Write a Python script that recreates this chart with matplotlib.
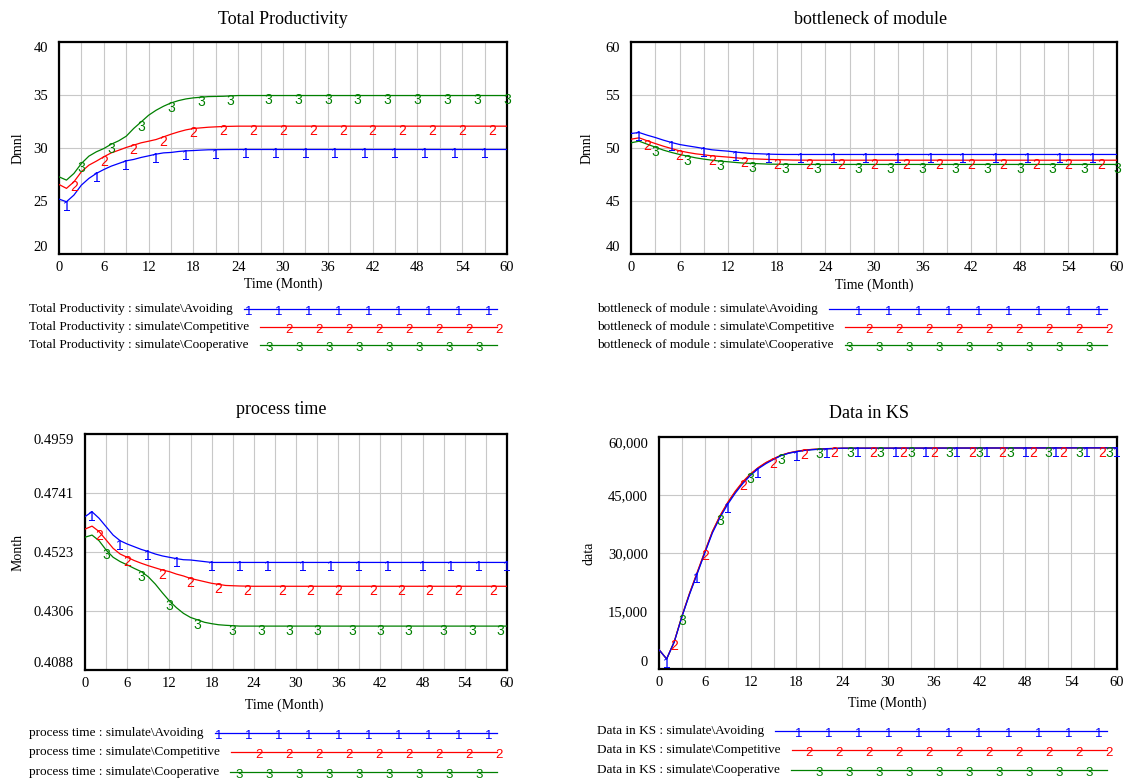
import numpy as np
import matplotlib
matplotlib.use("Agg")
import matplotlib.pyplot as plt
from matplotlib.lines import Line2D

W, H = 1129, 780

time = [0, 1, 2, 3, 4, 5, 6, 7, 8, 9, 10, 11, 12, 13, 14, 15, 16, 17, 18, 19, 20, 22, 24, 60]

prod_avoiding = [25.18, 24.93, 25.56, 26.50, 27.13, 27.60, 27.97, 28.29, 28.54, 28.79, 28.92, 29.11,
                 29.26, 29.42, 29.54, 29.58, 29.67, 29.73, 29.76, 29.80, 29.83, 29.85, 29.86, 29.86]
prod_competitive = [26.56, 26.19, 26.81, 27.76, 28.38, 28.76, 29.17, 29.54, 29.79, 30.05, 30.27, 30.49,
                    30.64, 30.80, 31.05, 31.30, 31.52, 31.71, 31.84, 31.90, 31.96, 32.03, 32.06, 32.06]
prod_cooperative = [27.28, 26.97, 27.60, 28.54, 29.23, 29.64, 29.95, 30.36, 30.68, 31.11, 31.84, 32.46,
                    33.09, 33.56, 33.94, 34.25, 34.47, 34.63, 34.73, 34.79, 34.85, 34.88, 34.95, 34.95]

bott_avoiding = [51.37, 51.46, 51.21, 50.99, 50.74, 50.52, 50.33, 50.20, 50.08, 49.95, 49.83, 49.76,
                 49.70, 49.61, 49.54, 49.48, 49.45, 49.42, 49.40, 49.39, 49.39, 49.39, 49.39, 49.39]
bott_competitive = [50.83, 50.96, 50.68, 50.42, 50.17, 49.95, 49.73, 49.58, 49.45, 49.36, 49.26, 49.20,
                    49.14, 49.07, 49.01, 48.98, 48.95, 48.92, 48.90, 48.88, 48.86, 48.85, 48.85, 48.85]
bott_cooperative = [50.49, 50.64, 50.36, 50.08, 49.80, 49.58, 49.39, 49.23, 49.07, 48.95, 48.85, 48.76,
                    48.70, 48.63, 48.57, 48.54, 48.51, 48.48, 48.47, 48.46, 48.45, 48.45, 48.45, 48.45]

ptime_avoiding = [0.4654, 0.4672, 0.4648, 0.4617, 0.4586, 0.4565, 0.4553, 0.4543, 0.4533, 0.4525, 0.4516, 0.4509,
                  0.4504, 0.4499, 0.4495, 0.4494, 0.4491, 0.4488, 0.4485, 0.4485, 0.4485, 0.4485, 0.4485, 0.4485]
ptime_competitive = [0.4608, 0.4619, 0.4599, 0.4568, 0.4537, 0.4516, 0.4504, 0.4492, 0.4482, 0.4473, 0.4465, 0.4457,
                     0.4451, 0.4442, 0.4435, 0.4426, 0.4420, 0.4414, 0.4408, 0.4404, 0.4400, 0.4398, 0.4397, 0.4397]
ptime_cooperative = [0.4578, 0.4586, 0.4565, 0.4531, 0.4504, 0.4488, 0.4476, 0.4463, 0.4451, 0.4432, 0.4405, 0.4373,
                     0.4343, 0.4318, 0.4297, 0.4282, 0.4273, 0.4264, 0.4259, 0.4255, 0.4253, 0.4250, 0.4250, 0.4250]

ks_avoiding = [5000, 2600, 7000, 13500, 19300, 24600, 30000, 35200, 39200, 42600, 45500, 48000,
               50100, 51800, 53100, 54200, 55200, 55800, 56200, 56500, 56700, 56950, 57100, 57200]
ks_competitive = [5000, 2600, 7100, 13700, 19600, 25000, 30400, 35600, 39700, 43100, 46000, 48500,
                  50500, 52100, 53400, 54400, 55300, 55900, 56300, 56600, 56800, 57000, 57100, 57200]
ks_cooperative = [5000, 2600, 7050, 13600, 19500, 24800, 30200, 35500, 39500, 42900, 45800, 48300,
                  50300, 52000, 53300, 54300, 55250, 55850, 56250, 56550, 56750, 56980, 57100, 57200]

scenarios = ["Avoiding", "Competitive", "Cooperative"]
colors = ["#0000ff", "#ff0000", "#008000"]
digits = ["1", "2", "3"]

# where the little run numbers sit along the curves (months)
marks_top = [list(range(1, 58, 4)), list(range(2, 59, 4)), [3, 7, 11, 15, 19, 23] + list(range(28, 61, 4))]
marks_bottom = [[1, 5, 9, 13, 18, 22, 26, 31, 35, 39, 43, 48, 52, 56, 60],
                [2, 6, 11, 15, 19, 23, 28, 32, 36, 41, 45, 49, 53, 58],
                [3, 8, 12, 16, 21, 25, 29, 33, 38, 42, 46, 51, 55, 59]]

SERIF = "Liberation Serif"
SANS = "Liberation Sans"

fig = plt.figure(figsize=(W / 100, H / 100), dpi=100)
fig.patch.set_facecolor("white")


def fx(x):
    return x / W


def fy(y):
    return 1 - y / H


def panel(box, title, title_xy, ylabel, ylabel_xy, xlabel_xy, ylim, ylabels,
          series, marks, legend_name, legend_x, legend_end, legend_rows):
    left, top, right, bottom = box
    ax = fig.add_axes([fx(left), fy(bottom), (right - left) / W, (bottom - top) / H])
    for i in [2, 1, 0]:
        ax.plot(time, series[i], color=colors[i], lw=0.9, zorder=3)
        ys = np.interp(marks[i], time, series[i])
        for t, v in zip(marks[i], ys):
            ax.annotate(digits[i], (t, v), xytext=(0, -3.5), textcoords="offset points",
                        ha="center", va="center", color=colors[i], fontsize=10,
                        family=SANS, zorder=4, annotation_clip=False)
    ax.set_xlim(0, 60)
    ax.set_ylim(*ylim)
    ax.set_xticks(range(0, 61, 6))
    ax.set_xticks(range(0, 61, 3), minor=True)
    yt = np.linspace(ylim[0], ylim[1], 5)
    ax.set_yticks(yt, ylabels)
    ax.grid(True, which="both", color="#c8c8c8", lw=0.8, zorder=0)
    ax.tick_params(which="both", length=0, labelsize=10.5)
    ax.tick_params(axis="x", pad=5)
    ax.tick_params(axis="y", pad=8)
    for lab in ax.get_xticklabels() + ax.get_yticklabels():
        lab.set_family(SERIF)
    ylabs = ax.get_yticklabels()
    ylabs[0].set_va("bottom")
    ylabs[-1].set_va("top")
    for s in ax.spines.values():
        s.set_linewidth(1.6)
        s.set_color("black")

    fig.text(fx(title_xy[0]), fy(title_xy[1]), title, ha="center", va="center",
             family=SERIF, fontsize=13)
    fig.text(fx(ylabel_xy[0]), fy(ylabel_xy[1]), ylabel, ha="center", va="center",
             rotation=90, family=SERIF, fontsize=10)
    fig.text(fx(xlabel_xy[0]), fy(xlabel_xy[1]), "Time (Month)", ha="center", va="center",
             family=SERIF, fontsize=10)

    renderer = fig.canvas.get_renderer()
    ends = [-8, 2, -18]
    for i in range(3):
        row = legend_rows[i]
        txt = fig.text(fx(legend_x), fy(row), legend_name + " : simulate\\" + scenarios[i],
                       ha="left", va="center", family=SERIF, fontsize=9.5)
        bb = txt.get_window_extent(renderer)
        x0 = bb.x1 + 11
        fig.add_artist(Line2D([fx(x0), fx(legend_end)], [fy(row), fy(row)],
                              transform=fig.transFigure, color=colors[i], lw=0.9))
        xm = legend_end + ends[i]
        while xm > x0 + 3:
            fig.text(fx(xm), fy(row + 3), digits[i], ha="center", va="center",
                     color=colors[i], fontsize=9.5, family=SANS)
            xm -= 30
    return ax


panel((59, 42, 507, 254), "Total Productivity", (283, 20), "Dmnl", (18, 148), (283, 284),
      (20, 40), ["20", "25", "30", "35", "40"],
      [prod_avoiding, prod_competitive, prod_cooperative], marks_top,
      "Total Productivity", 29, 497, [309, 327, 345])

panel((631, 42, 1117, 254), "bottleneck of module", (871, 20), "Dmnl", (587, 148), (874, 285),
      (40, 60), ["40", "45", "50", "55", "60"],
      [bott_avoiding, bott_competitive, bott_cooperative], marks_top,
      "bottleneck of module", 597, 1107, [309, 327, 345])

panel((85, 434, 507, 670), "process time", (281, 410), "Month", (18, 552), (284, 705),
      (0.4088, 0.4959), ["0.4088", "0.4306", "0.4523", "0.4741", "0.4959"],
      [ptime_avoiding, ptime_competitive, ptime_cooperative], marks_bottom,
      "process time", 29, 497, [733, 752, 772])

panel((659, 437, 1117, 669), "Data in KS", (869, 413), "data", (589, 553), (887, 703),
      (0, 60000), ["0", "15,000", "30,000", "45,000", "60,000"],
      [ks_avoiding, ks_competitive, ks_cooperative], marks_bottom,
      "Data in KS", 597, 1107, [731, 750, 770])

fig.savefig("out.png", dpi=100, facecolor="white")
